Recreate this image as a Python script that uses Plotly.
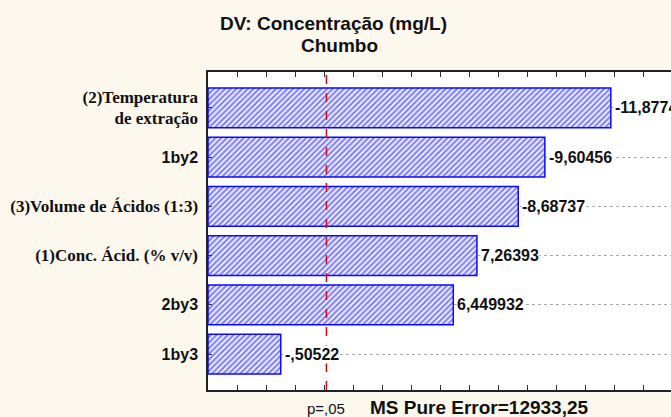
import plotly.graph_objects as go

# Data (bottom-to-top order)
categories = [
    "1by3",
    "2by3",
    "(1)Conc. Ácid. (% v/v)",
    "(3)Volume de Ácidos (1:3)",
    "1by2",
    "(2)Temperatura<br>de extração",
]
effects = [-0.50522, 6.449932, 7.26393, -8.68737, -9.60456, -11.8774]
value_labels = ["-,50522", "6,449932", "7,26393", "-8,68737", "-9,60456", "-11,8774"]
serif_cats = {"(1)Conc. Ácid. (% v/v)", "(3)Volume de Ácidos (1:3)", "(2)Temperatura<br>de extração"}
p_critical = 2.08
ms_pure_error = "12933,25"

X_MIN, X_MAX = -2.0, 13.95
BLUE = "#0a0aff"
SERIF = "Liberation Serif, Times New Roman, serif"
SANS = "Liberation Sans, Arial, sans-serif"

abs_eff = [abs(v) for v in effects]

def fmt_cat(c):
    if c in serif_cats:
        return f'<span style="font-family:{SERIF};font-size:17px"><b>{c}</b></span>'
    return f'<b>{c}</b>'

tick_text = [fmt_cat(c) for c in categories]

fig = go.Figure()
fig.add_trace(go.Bar(
    y=categories,
    x=[a - X_MIN for a in abs_eff],
    base=[X_MIN] * len(categories),
    orientation="h",
    marker=dict(
        color="white",
        line=dict(color=BLUE, width=1.5),
        pattern=dict(shape="/", fgcolor=BLUE, bgcolor="white", size=4, solidity=0.6),
    ),
    hoverinfo="skip",
))

annotations = []
for cat, a, lab in zip(categories, abs_eff, value_labels):
    annotations.append(dict(
        x=a, y=cat, xref="x", yref="y", text=f"<b>{lab}</b>",
        showarrow=False, xanchor="left", yanchor="middle", xshift=3,
        bgcolor="white", borderpad=0, font=dict(family=SANS, size=16, color="#111"),
    ))

annotations += [
    dict(x=p_critical, y=0, xref="x", yref="paper", yshift=-18, text="p=,05",
         showarrow=False, xanchor="center", yanchor="middle",
         font=dict(family=SANS, size=15, color="#111")),
    dict(x=0.586, y=0, xref="paper", yref="paper", yshift=-17,
         text=f"<b>MS Pure Error={ms_pure_error}</b>",
         showarrow=False, xanchor="center", yanchor="middle",
         font=dict(family=SANS, size=19, color="#111")),
    dict(x=0.272, y=1, xref="paper", yref="paper", yshift=49,
         text="<b>DV: Concentração (mg/L)</b>", showarrow=False,
         xanchor="center", yanchor="middle",
         font=dict(family=SANS, size=19, color="#111")),
    dict(x=0.285, y=1, xref="paper", yref="paper", yshift=27,
         text="<b>Chumbo</b>", showarrow=False,
         xanchor="center", yanchor="middle",
         font=dict(family=SANS, size=19, color="#111")),
]

fig.add_shape(type="line", x0=p_critical, x1=p_critical, y0=0, y1=1,
              xref="x", yref="paper", line=dict(color="#e8000b", width=1.5, dash="dash"))

fig.update_layout(
    width=671, height=417,
    margin=dict(l=208, r=0, t=72, b=27),
    paper_bgcolor="#fdf8ee",
    plot_bgcolor="white",
    showlegend=False,
    bargap=0.19,
    annotations=annotations,
    xaxis=dict(
        range=[X_MIN, X_MAX], dtick=1, tick0=0,
        showticklabels=False, ticks="inside", ticklen=5, tickcolor="#333",
        showline=True, linecolor="#222", linewidth=1.5, mirror="ticks",
        showgrid=False, zeroline=False,
    ),
    yaxis=dict(
        categoryorder="array", categoryarray=categories,
        tickvals=categories, ticktext=tick_text,
        range=[-0.73, len(categories) - 0.27],
        ticks="inside", ticklen=4, tickcolor="#333",
        showline=True, linecolor="#222", linewidth=1.5,
        showgrid=True, gridcolor="#aaaaaa", griddash="dot", gridwidth=1,
        tickfont=dict(family=SANS, size=16, color="#111"),
        ticklabelstandoff=5,
    ),
)

fig.write_html("out.html", config={"displayModeBar": False},
               post_script="document.body.style.margin='0';document.body.style.overflow='hidden';")
